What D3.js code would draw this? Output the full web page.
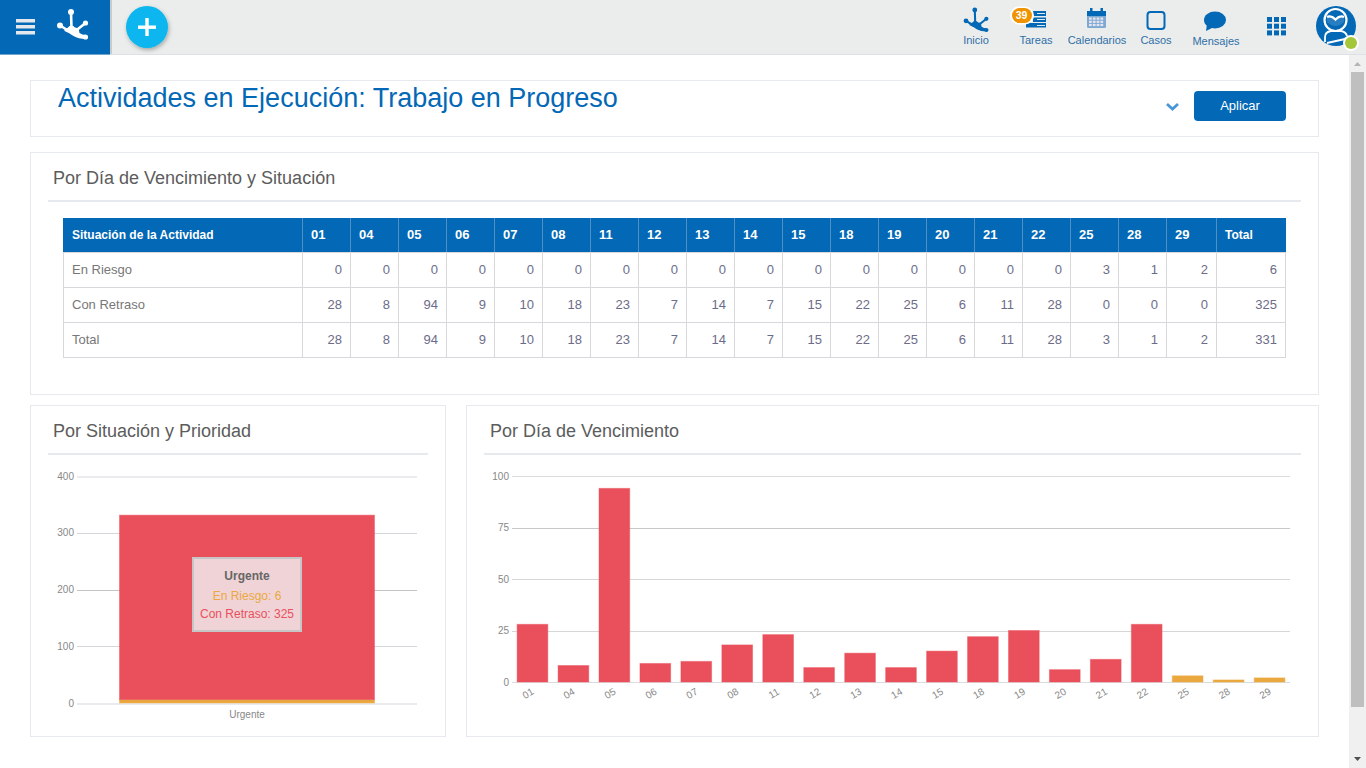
<!DOCTYPE html>
<html lang="es"><head><meta charset="utf-8"><title>Actividades en Ejecución</title>
<script src="https://cdn.jsdelivr.net/npm/d3@7/dist/d3.min.js"></script>
<style>
html,body{margin:0;padding:0;background:#fff;overflow:hidden}
svg{display:block;font-family:"Liberation Sans",Arial,sans-serif}
</style></head><body><svg id="page" width="1366" height="768" viewBox="0 0 1366 768"></svg>
<script>
const days = ["01","04","05","06","07","08","11","12","13","14","15","18","19","20","21","22","25","28","29"];
const enRiesgo = [0,0,0,0,0,0,0,0,0,0,0,0,0,0,0,0,3,1,2];
const conRetraso = [28,8,94,9,10,18,23,7,14,7,15,22,25,6,11,28,0,0,0];
const totalPorDia = [28,8,94,9,10,18,23,7,14,7,15,22,25,6,11,28,3,1,2];
const totalesFila = [6,325,331];
const filas = ["En Riesgo","Con Retraso","Total"];
const prioridades = ["Urgente"];
const riesgoPrioridad = [6];
const retrasoPrioridad = [325];
const ticksPrioridad = [0,100,200,300,400];
const ticksDia = [0,25,50,75,100];
const navItems = [["Inicio",976,44],["Tareas",1036,44],["Calendarios",1097,44],["Casos",1156,44],["Mensajes",1216,45]];

const RED="#e9505c", ORANGE="#eaa83f", BLUE="#0368b5";
const svg=d3.select("#page");
const T=(g,x,y,s,o={})=>g.append("text").attr("x",x).attr("y",y).text(s)
  .attr("font-size",o.size||12).attr("fill",o.fill||"#777").attr("text-anchor",o.anchor||"start")
  .attr("font-weight",o.weight||"normal").attr("letter-spacing",o.ls||null);
const R=(g,x,y,w,h,f,o={})=>g.append("rect").attr("x",x).attr("y",y).attr("width",w).attr("height",h)
  .attr("fill",f).attr("stroke",o.stroke||"none").attr("stroke-width",o.sw||null).attr("rx",o.rx||null);

/* top bar */
const nav=svg.append("g");
R(nav,0,0,1366,54,"#ebedec");
R(nav,0,54,1366,1,"#dde2e6");
R(nav,110,0,2,54,"#c9cccc");
R(nav,0,0,110,54.5,BLUE);
[19,25,31].forEach(y=>R(nav,16,y,19,3.5,"#e4e8ec"));
const logo=(g,k,dx,dy,col)=>{
  const n=g.append("g").attr("transform",`translate(${dx},${dy}) scale(${k})`).attr("fill",col);
  n.append("path").attr("fill","none").attr("stroke",col).attr("stroke-width",2.6).attr("stroke-linecap","round")
   .attr("d","M-1.5,-20 L-1,-4 M-12.5,-6.5 L-2,0 M13,-9 L3,-1 M13,5 L4,3");
  n.append("path").attr("d","M-8,-3 Q-4,-4 -3,-6 L1,-6 Q2,-4 6,-4 L7,1 Q10,3 13,3 L13,7 Q6,7 1,4 Q-3,1 -8,-1 Z");
  [[-1.5,-20,3],[-12.5,-6.5,3],[13,-9,2.6],[13,5,2.6]].forEach(c=>n.append("circle").attr("cx",c[0]).attr("cy",c[1]).attr("r",c[2]));
};
logo(nav,1,72.5,32,"#fff");
svg.append("defs").html('<filter id="sh" x="-30%" y="-30%" width="160%" height="160%"><feDropShadow dx="1" dy="2" stdDeviation="2" flood-color="#000" flood-opacity=".3"/></filter>');
nav.append("circle").attr("cx",147).attr("cy",27).attr("r",21).attr("fill","#08b6ee").attr("filter","url(#sh)");
R(nav,138,25.5,18,3.4,"#fff");R(nav,145.3,18,3.4,18,"#fff");

logo(nav,.8,976,26,BLUE);
R(nav,1033,11,13,5,BLUE);R(nav,1033,17.5,13,4.5,BLUE);R(nav,1026,23,20,4.5,BLUE);
R(nav,1037,13,8,1,"#dfe8f0");R(nav,1037,19,8,1,"#dfe8f0");R(nav,1037,25,8,1,"#dfe8f0");
R(nav,1010,6.5,24,18,"#fff",{rx:9});
R(nav,1012,8,20,15,"#f09300",{rx:7.5});
T(nav,1021.5,19,"39",{size:10.5,fill:"#fff",anchor:"middle",weight:"bold"});
// calendar
R(nav,1087,11,19,17,"#7da9d3",{rx:1.5});R(nav,1087,11,19,5,BLUE);
R(nav,1090,8,2.5,5,BLUE);R(nav,1100.5,8,2.5,5,BLUE);
d3.range(3).forEach(r=>d3.range(4).forEach(c=>R(nav,1089+c*3.8,17.5+r*3.2,2.8,2.2,"#e8e4ee")));
// casos
R(nav,1147.5,12,17,17,"none",{stroke:BLUE,sw:2,rx:3});
// mensajes
nav.append("ellipse").attr("cx",1215).attr("cy",20).attr("rx",11).attr("ry",8.5).attr("fill",BLUE);
nav.append("path").attr("d","M1207,24 L1206,31 L1214,27 Z").attr("fill",BLUE);
// apps
d3.range(3).forEach(r=>d3.range(3).forEach(c=>R(nav,1267+c*7,17+r*6.7,5,5,BLUE)));
navItems.forEach(d=>T(nav,d[1],d[2],d[0],{size:11,fill:"#2f6fa8",anchor:"middle"}));
// avatar
nav.append("circle").attr("cx",1336).attr("cy",26).attr("r",20).attr("fill",BLUE);
nav.append("circle").attr("cx",1335.5).attr("cy",20).attr("r",11).attr("fill","none").attr("stroke","#fff").attr("stroke-width",2.2);
nav.append("path").attr("d","M1327,16 Q1331,14 1335.5,18 Q1340,14 1344,16 L1344,22 Q1335.5,30 1327,22 Z").attr("fill","#fff").attr("fill-opacity",.15).attr("stroke","none");
nav.append("path").attr("d","M1327,17 Q1331,15 1335.5,19.5 Q1340,15 1344,17").attr("fill","none").attr("stroke","#fff").attr("stroke-width",2.4);
nav.append("path").attr("d","M1325,42 L1325,37 Q1325,32 1331,31 L1341,31 Q1346,32 1347,36 M1327,43 L1345,39").attr("fill","none").attr("stroke","#fff").attr("stroke-width",1.8);
nav.append("circle").attr("cx",1351).attr("cy",43).attr("r",8).attr("fill","#fff");
nav.append("circle").attr("cx",1351).attr("cy",43).attr("r",6).attr("fill","#a4c639");

/* scrollbar */
R(svg,1349,55,17,713,"#f0f0f0");
R(svg,1351,72,13,635,"#bfbfbf");
svg.append("path").attr("d","M1357.5,62 L1361,66 L1354,66 Z").attr("fill","#b5b5b5");
svg.append("path").attr("d","M1354,757 L1361,757 L1357.5,761 Z").attr("fill","#505050");

/* panels */
const panel=(x,y,w,h)=>R(svg,x+.5,y+.5,w,h,"#fff",{stroke:"#e6e9ee",sw:1});
panel(30,80,1288,56);panel(30,152,1288,242);panel(30,405,415,331);panel(466,405,852,331);
T(svg,58,107,"Actividades en Ejecución: Trabajo en Progreso",{size:27,fill:BLUE});
svg.append("path").attr("d","M1167,104 L1172.5,109 L1178,104").attr("fill","none").attr("stroke","#4a97d8").attr("stroke-width",2.8);
R(svg,1194,91,92,30,BLUE,{rx:4});
T(svg,1240,110,"Aplicar",{size:13,fill:"#fff",anchor:"middle"});
[["Por Día de Vencimiento y Situación",53,184,48,1301,200],["Por Situación y Prioridad",53,437,48,428,453],["Por Día de Vencimiento",490,437,484,1301,453]].forEach(d=>{
  T(svg,d[1],d[2],d[0],{size:18,fill:"#5c5c5c"});
  R(svg,d[3],d[5],d[4]-d[3],2,"#e6e9ee");
});

/* table */
const tbl=svg.append("g");
const colX=[63,302].concat(days.map((d,i)=>350+48*i));
colX[colX.length-1]=1216; colX.push(1285);
const rowY=[218,252,287,322,357];
R(tbl,63,218,1223,34,BLUE);
const NUM="#6c6c88";
colX.forEach((x,i)=>{
  R(tbl,x,252,1,105.5,"#d8d8dc");
  if(i>0&&i<colX.length-1)R(tbl,x,218,1,34,"#4f8fc6");
});
rowY.slice(1).forEach(y=>R(tbl,63,y,1223,1,"#d8d8dc"));
T(tbl,72,238.5,"Situación de la Actividad",{size:12,fill:"#fff",weight:"bold"});
days.forEach((d,i)=>T(tbl,colX[i+1]+9,238.5,d,{size:13,fill:"#fff",weight:"bold"}));
T(tbl,colX[colX.length-2]+9,238.5,"Total",{size:12,fill:"#fff",weight:"bold"});
const filaVals=[enRiesgo,conRetraso,totalPorDia];
filas.forEach((f,r)=>{
  const y=rowY[r+1]+22;
  T(tbl,72,y,f,{size:13,fill:"#777"});
  filaVals[r].forEach((v,i)=>T(tbl,colX[i+2]-8,y,v,{size:13,fill:NUM,anchor:"end"}));
  T(tbl,1277,y,totalesFila[r],{size:13,fill:NUM,anchor:"end"});
});

/* charts */
function chart(o){
  const g=svg.append("g");
  const x=d3.scaleBand().domain(o.cats).range(o.xr).paddingInner(.25).paddingOuter(.125);
  const y=d3.scaleLinear().domain([0,o.max]).range(o.yr);
  const ax=g.append("g").attr("transform",`translate(${o.xr[0]},0)`).call(d3.axisLeft(y).tickValues(o.ticks).tickSize(-(o.xr[1]-o.xr[0])).tickPadding(3).tickFormat(d3.format("d")));
  ax.select(".domain").remove();
  ax.selectAll("line").attr("stroke",(d,i)=>o.gridCol[i]).attr("stroke-width",(d,i)=>o.gridW[i]).attr("shape-rendering","crispEdges");
  ax.selectAll("text").attr("fill","#888").attr("font-size",10).attr("font-family","'Liberation Sans',Arial,sans-serif");
  const rows=o.cats.map((c,i)=>({c,a:o.a[i],b:o.b[i]}));
  const st=d3.stack().keys(["a","b"])(rows);
  [ORANGE,RED].forEach((col,k)=>{
    g.append("g").selectAll("rect").data(st[k].filter(d=>d[1]>d[0])).join("rect")
     .attr("x",d=>x(d.data.c)).attr("width",x.bandwidth())
     .attr("y",d=>y(d[1])).attr("height",d=>y(d[0])-y(d[1]))
     .attr("fill",col).attr("stroke",col).attr("stroke-opacity",.45).attr("stroke-width",1);
  });
  const xa=g.append("g").attr("transform",`translate(0,${o.yr[0]})`).call(d3.axisBottom(x).tickSize(0).tickPadding(o.rot?7:8));
  xa.select(".domain").remove();
  xa.selectAll("text").attr("fill","#888").attr("font-size",10).attr("font-family","'Liberation Sans',Arial,sans-serif");
  if(o.rot) xa.selectAll("text").attr("transform","translate(-8,-1) rotate(-30)").attr("text-anchor","middle").attr("dx",-3).attr("dy","0.9em");
  return {x,y,g};
}
chart({cats:prioridades,a:riesgoPrioridad,b:retrasoPrioridad,xr:[77,417],yr:[703,476],max:400,ticks:ticksPrioridad,
  gridCol:["#e9ebee","#d5d6d9","#c4c4c6","#d5d6d9","#e9ebee"],gridW:[2,1,1,1,2]});
chart({cats:days,a:enRiesgo,b:conRetraso,xr:[512,1290],yr:[682,476],max:100,ticks:ticksDia,rot:true,
  gridCol:["#dcdcdf","#d6d6d9","#d6d6d9","#c8c8ca","#dcdcdf"],gridW:[1,1,1,1,1]});

/* tooltip */
const tip=svg.append("g");
R(tip,193,558,108,73,"#f0d3d6",{stroke:"#c6c6c6",sw:2});
T(tip,247,580,prioridades[0],{size:12,fill:"#666",anchor:"middle",weight:"bold"});
T(tip,247,600,`En Riesgo: ${riesgoPrioridad[0]}`,{size:12,fill:ORANGE,anchor:"middle"});
T(tip,247,618,`Con Retraso: ${retrasoPrioridad[0]}`,{size:12,fill:RED,anchor:"middle"});
</script></body></html>
